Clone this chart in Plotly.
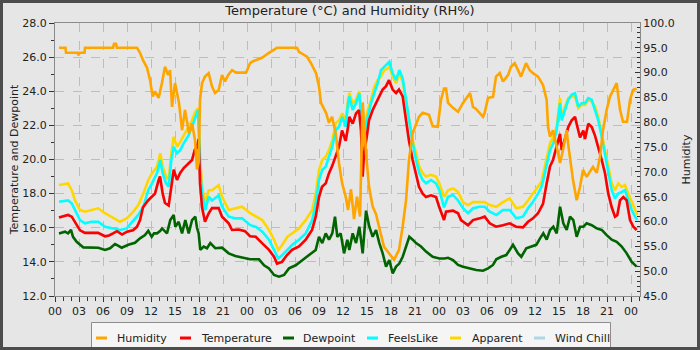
import plotly.graph_objects as go

# ---- observation data (hours since the first midnight) ----
hum_hours = [0.5, 1.31, 1.38, 2.81, 2.94, 3.06, 3.69, 3.75, 7.25, 7.38, 7.63, 7.75, 10.25, 10.63, 11.0,
             11.5, 11.88, 12.21, 12.5, 12.96, 13.38, 13.75, 14.13, 14.38, 14.63, 15.0, 15.5, 15.88, 16.25,
             16.75, 17.13, 17.5, 17.75, 17.96, 18.13, 18.38, 18.75, 19.21, 19.63, 20.0, 20.46, 20.88,
             21.25, 21.63, 22.13, 22.63, 23.88, 24.38, 24.63, 25.88, 26.75, 27.75, 30.25, 30.5, 31.5,
             32.0, 32.63, 33.0, 33.25, 33.88, 34.25, 34.63, 35.09, 35.5, 35.88, 36.34, 36.63, 37.0,
             37.38, 37.75, 38.13, 38.46, 38.88, 39.25, 39.71, 40.13, 40.5, 41.13, 41.75, 42.38, 43.0,
             43.46, 43.88, 44.25, 44.71, 45.13, 45.5, 45.96, 46.75, 47.21, 47.84, 48.25, 48.63, 48.88,
             49.13, 49.75, 50.38, 51.0, 51.63, 51.88, 52.25, 52.63, 53.5, 53.71, 54.13, 54.75, 55.13,
             55.59, 56.0, 56.63, 57.0, 57.46, 57.88, 58.25, 58.88, 59.34, 59.75, 60.38, 60.75, 61.0,
             61.46, 61.63, 61.88, 62.25, 62.71, 63.13, 63.5, 63.96, 64.13, 64.59, 64.75, 65.21, 65.63,
             66.0, 66.46, 66.88, 67.25, 67.71, 68.13, 68.5, 68.96, 69.38, 69.75, 70.21, 70.63, 71.0,
             71.5, 71.88, 72.25, 72.71]
humidity = [95.0, 95.0, 94.0, 94.0, 93.5, 94.0, 94.0, 95.0, 95.0, 95.8, 95.8, 95.0, 95.0, 94.0, 92.5,
            91.0, 88.5, 85.2, 86.2, 84.9, 88.0, 91.2, 89.5, 90.5, 83.1, 87.9, 83.9, 78.4, 82.5,
            77.8, 79.8, 76.4, 70.5, 72.0, 84.5, 87.9, 89.2, 89.9, 87.2, 85.9, 86.5, 89.5,
            88.2, 89.5, 90.5, 90.0, 90.0, 91.9, 92.2, 93.0, 94.0, 95.0, 95.0, 94.2, 93.2,
            91.9, 89.9, 87.2, 83.9, 81.9, 79.9, 81.1, 77.8, 71.8, 67.8, 65.0, 62.3, 66.5,
            60.5, 65.0, 61.0, 84.0, 73.8, 67.0, 63.0, 61.5, 59.0, 54.9, 53.6, 52.3, 54.3,
            59.0, 64.3, 72.4, 77.8, 79.8, 81.1, 81.9, 81.5, 79.2, 79.1, 84.5, 86.8, 86.8,
            83.9, 82.9, 82.1, 83.9, 85.2, 85.9, 83.1, 82.7, 81.1, 81.9, 84.9, 85.1, 89.2,
            89.9, 88.2, 89.5, 91.2, 91.9, 90.5, 89.2, 91.9, 90.5, 89.9, 89.2, 88.2, 87.5,
            84.5, 79.1, 77.1, 78.4, 75.1, 71.8, 74.4, 78.4, 75.8, 69.8, 68.4, 64.3, 67.0,
            70.4, 69.0, 70.1, 71.0, 69.8, 73.1, 78.4, 82.5, 85.2, 86.5, 87.9, 82.5, 80.1,
            80.1, 84.5, 86.5, 86.8]

temp_hours = [0.5, 1.0, 1.63, 2.09, 2.5, 3.13, 3.75, 4.5, 5.38, 6.25, 6.75, 7.25, 7.75, 8.38, 9.0,
              9.75, 10.25, 10.63, 11.0, 11.63, 12.13, 12.5, 12.96, 13.13, 13.46, 13.75, 14.21, 14.5,
              14.84, 15.25, 15.63, 16.09, 16.71, 17.13, 17.46, 17.75, 17.96, 18.13, 18.38, 18.75,
              19.21, 19.63, 20.46, 20.88, 21.71, 22.13, 22.96, 23.75, 24.38, 25.09, 25.88, 26.75,
              27.38, 27.75, 28.38, 29.0, 29.63, 30.5, 31.34, 32.13, 32.59, 33.0, 33.38, 33.84, 34.25,
              34.63, 35.09, 35.5, 35.88, 36.34, 36.63, 36.79, 37.21, 37.63, 38.0, 38.25, 38.46, 38.63,
              38.96, 39.25, 39.71, 40.13, 40.5, 40.96, 41.38, 41.75, 42.21, 42.63, 43.0, 43.46, 43.88,
              44.25, 44.71, 45.13, 45.5, 45.96, 46.38, 47.0, 47.63, 48.04, 48.63, 48.88, 49.75, 50.38,
              50.75, 51.63, 52.25, 53.09, 53.71, 54.34, 55.13, 56.0, 56.84, 57.63, 58.5, 59.13, 59.75,
              60.38, 61.0, 61.46, 61.88, 62.25, 62.71, 63.13, 63.34, 63.75, 64.16, 64.59, 65.0, 65.41,
              65.63, 66.04, 66.25, 66.66, 67.09, 67.5, 67.91, 68.34, 68.75, 69.16, 69.59, 70.0, 70.29,
              70.63, 71.04, 71.46, 71.88, 72.29, 72.71]
temperature = [16.6, 16.65, 16.75, 16.65, 16.35, 15.85, 15.7, 15.7, 15.7, 15.5, 15.55, 15.67, 15.8, 15.6, 15.77,
               15.85, 16.06, 16.45, 17.2, 17.6, 17.8, 18.0, 18.8, 19.0, 18.0, 17.45, 17.3, 18.4,
               19.4, 18.8, 19.2, 19.5, 19.8, 19.97, 20.55, 20.75, 21.2, 18.6, 17.2, 16.35,
               16.85, 17.15, 17.15, 16.65, 16.26, 15.87, 15.9, 15.8, 15.5, 15.47, 15.1, 14.7,
               14.3, 13.9, 14.0, 14.4, 14.7, 14.9, 15.3, 15.87, 16.65, 17.8, 18.4, 18.6, 19.2,
               19.6, 20.2, 20.75, 21.7, 21.1, 21.9, 22.5, 22.1, 22.7, 22.9, 21.7, 19.0, 20.36,
               21.3, 22.3, 22.9, 23.3, 23.7, 24.1, 24.3, 24.65, 24.1, 23.9, 24.1, 23.7, 22.3,
               21.1, 19.97, 19.2, 18.4, 18.0, 17.8, 17.9, 17.8, 17.2, 16.45, 16.94, 17.0, 16.85,
               16.45, 16.15, 16.45, 16.55, 16.65, 16.26, 16.06, 16.15, 16.26, 16.06, 16.02, 16.35, 16.55,
               16.85, 17.4, 18.6, 19.6, 19.97, 20.75, 21.5, 20.55, 21.3, 21.9, 22.3, 22.5, 21.7,
               21.3, 21.7, 21.2, 22.1, 21.9, 21.4, 20.75, 19.97, 19.2, 18.0, 17.2, 16.65, 16.75,
               17.6, 17.8, 17.6, 16.45, 16.06, 15.87]

# Above 10 °C the wind chill equals the air temperature
wind_chill = list(temperature)

dew_hours = [0.5, 1.25, 1.63, 2.0, 2.25, 2.71, 3.54, 4.59, 5.41, 6.25, 6.88, 7.5, 8.34, 9.16, 10.0,
             10.63, 11.25, 11.66, 12.09, 12.38, 12.75, 13.13, 13.38, 14.0, 14.41, 14.84, 15.04, 15.46,
             15.88, 16.29, 16.71, 17.13, 17.54, 17.75, 17.96, 18.16, 18.59, 19.0, 19.41, 20.04, 20.88,
             21.71, 22.54, 23.38, 24.38, 25.5, 26.13, 26.75, 27.38, 28.0, 28.63, 29.25, 30.09, 30.91,
             31.75, 32.59, 33.0, 33.41, 33.84, 34.25, 34.66, 35.0, 35.29, 35.71, 36.13, 36.54, 36.79,
             37.21, 37.63, 38.04, 38.46, 38.88, 39.29, 39.71, 40.13, 40.54, 40.96, 41.38, 41.79, 42.21,
             42.63, 43.04, 43.46, 43.88, 44.29, 44.71, 45.13, 45.75, 46.38, 47.21, 48.04, 48.66, 49.13,
             49.75, 50.38, 51.0, 51.84, 52.66, 53.5, 54.13, 54.75, 55.16, 55.79, 56.41, 56.84, 57.25,
             57.88, 58.29, 58.91, 59.54, 60.16, 60.63, 61.04, 61.46, 61.88, 62.29, 62.71, 63.13, 63.54,
             63.96, 64.38, 64.79, 65.21, 65.63, 66.04, 66.46, 67.09, 67.71, 68.34, 68.96, 69.59, 70.21,
             70.84, 71.46, 72.09, 72.71]
dewpoint = [15.67, 15.77, 15.67, 15.87, 15.47, 15.18, 14.85, 14.85, 14.83, 14.7, 14.8, 15.05, 14.83, 15.0, 15.12,
            15.38, 15.57, 15.82, 15.47, 15.67, 15.67, 15.8, 15.96, 15.67, 16.45, 16.75, 16.06, 16.35,
            15.67, 16.45, 15.67, 16.45, 16.65, 16.0, 15.67, 14.7, 14.9, 14.8, 15.1, 14.8, 14.83,
            14.5, 14.34, 14.26, 14.15, 14.15, 13.8, 13.62, 13.23, 13.13, 13.23, 13.62, 13.8, 14.1,
            14.4, 14.7, 15.47, 15.1, 15.67, 15.3, 15.67, 16.65, 15.47, 15.67, 14.5, 15.3, 14.7,
            15.67, 15.1, 16.06, 14.5, 17.0, 16.06, 15.47, 15.87, 15.1, 14.5, 13.72, 14.1, 13.33,
            13.72, 13.9, 14.3, 14.9, 15.47, 15.3, 15.1, 14.9, 14.6, 14.3, 14.2, 14.2, 14.24,
            14.1, 13.82, 13.72, 13.62, 13.52, 13.48, 13.62, 13.82, 14.15, 14.3, 14.4, 14.7, 15.0,
            14.5, 14.3, 14.8, 14.9, 15.0, 15.38, 15.67, 15.3, 15.87, 16.06, 15.67, 17.23, 16.26,
            15.87, 16.65, 16.45, 15.47, 16.06, 16.06, 16.26, 16.15, 15.96, 15.87, 15.57, 15.3, 15.18,
            14.9, 14.5, 14.0, 13.72]

feel_hours = [0.5, 1.63, 2.09, 2.5, 3.13, 3.75, 4.59, 5.41, 6.25, 7.29, 8.13, 8.96, 9.79, 10.41, 11.04,
              11.66, 12.13, 12.75, 13.16, 13.46, 13.88, 14.21, 14.54, 14.84, 15.25, 15.66, 16.09, 16.71,
              17.13, 17.54, 17.88, 18.16, 18.38, 18.79, 19.21, 19.63, 20.46, 20.88, 21.71, 22.54, 23.38,
              24.41, 25.09, 25.91, 26.75, 27.38, 27.91, 28.41, 29.04, 29.66, 30.5, 31.34, 32.16, 32.59,
              33.0, 33.41, 33.84, 34.25, 34.66, 35.09, 35.5, 35.91, 36.34, 36.63, 36.79, 37.21, 37.63,
              38.04, 38.25, 38.46, 38.75, 39.09, 39.5, 39.91, 40.34, 40.75, 41.16, 41.59, 41.79, 42.21,
              42.63, 43.04, 43.46, 43.88, 44.29, 44.71, 45.13, 45.54, 45.96, 46.38, 47.0, 47.63, 48.04,
              48.63, 49.13, 49.75, 50.38, 51.0, 51.63, 52.25, 53.09, 53.71, 54.34, 55.16, 56.0, 56.84,
              57.66, 58.5, 59.13, 59.75, 60.38, 60.81, 61.04, 61.46, 61.88, 62.29, 62.71, 63.13, 63.34,
              63.75, 64.16, 64.59, 65.0, 65.41, 65.84, 66.25, 66.66, 67.09, 67.5, 67.91, 68.34, 68.75,
              69.16, 69.59, 70.0, 70.41, 70.84, 71.25, 71.66, 72.09, 72.5, 72.79]
feels_like = [17.52, 17.6, 17.43, 17.04, 16.45, 16.26, 16.35, 16.35, 16.06, 15.96, 15.87, 15.96, 16.45, 16.75, 17.23,
              18.2, 18.6, 19.2, 19.97, 19.2, 18.6, 18.4, 19.97, 20.75, 20.36, 20.55, 20.95, 21.43,
              21.92, 22.5, 22.9, 19.4, 18.0, 17.04, 17.82, 17.6, 17.9, 17.23, 16.65, 16.55, 16.55,
              16.15, 16.06, 15.77, 15.3, 14.7, 14.2, 14.4, 14.7, 15.0, 15.3, 15.67, 16.45, 17.43,
              18.8, 19.4, 19.58, 20.16, 20.75, 21.73, 21.92, 22.5, 21.92, 23.3, 23.7, 22.9, 23.3,
              23.88, 22.5, 19.97, 21.73, 22.5, 23.3, 23.88, 24.47, 25.24, 25.44, 25.64, 25.73, 25.05,
              24.66, 25.24, 24.76, 23.5, 22.12, 20.95, 19.97, 19.2, 18.8, 18.6, 18.8, 18.6, 18.2,
              17.2, 17.82, 17.92, 17.6, 17.14, 16.85, 17.14, 17.23, 17.23, 16.94, 16.75, 17.04, 17.04,
              16.55, 16.65, 17.14, 17.52, 18.0, 18.4, 18.8, 19.78, 20.55, 20.95, 21.73, 23.3, 22.3,
              22.9, 23.5, 23.8, 23.88, 23.1, 23.3, 23.3, 23.6, 23.5, 22.9, 22.3, 21.33, 20.36,
              19.2, 18.2, 17.72, 18.0, 18.1, 18.2, 17.6, 17.04, 16.65, 16.45]

apparent = [18.5, 18.6, 18.2, 17.6, 17.04, 16.94, 17.04, 17.14, 16.85, 16.55, 16.35, 16.55, 16.94, 17.33, 18.0,
            18.8, 19.2, 19.58, 20.36, 19.6, 19.0, 18.8, 20.36, 21.33, 20.75, 21.04, 21.43, 21.92,
            22.3, 22.8, 23.0, 19.97, 18.4, 17.43, 18.2, 18.2, 18.5, 17.82, 17.04, 17.14, 17.23,
            16.85, 16.65, 16.45, 15.87, 15.3, 14.7, 15.0, 15.47, 15.67, 15.96, 16.45, 17.04, 18.0,
            19.4, 19.97, 20.16, 20.55, 21.14, 22.12, 22.3, 22.7, 22.3, 23.5, 23.9, 23.3, 23.5,
            24.0, 22.9, 20.36, 22.12, 22.9, 23.5, 24.27, 24.66, 24.86, 25.24, 25.34, 25.44, 24.86,
            24.47, 25.05, 24.56, 23.4, 22.3, 21.14, 20.36, 19.58, 19.2, 19.0, 19.1, 19.0, 18.6,
            17.82, 18.2, 18.3, 18.1, 17.5, 17.33, 17.5, 17.5, 17.5, 17.33, 17.23, 17.5, 17.72,
            17.14, 17.23, 17.6, 18.0, 18.4, 18.7, 19.2, 20.16, 20.95, 21.33, 21.92, 23.6, 22.5,
            23.1, 23.6, 23.7, 23.7, 23.0, 23.2, 23.2, 23.5, 23.4, 23.1, 22.5, 21.53, 20.55,
            19.58, 18.6, 18.2, 18.6, 18.4, 18.5, 18.0, 17.5, 17.14, 16.75]

tick_hours = list(range(0, 73, 3))
tick_labels = ["00", "03", "06", "09", "12", "15", "18", "21"] * 3 + ["00"]

legend_names = ["Humidity", "Temperature", "Dewpoint", "FeelsLike", "Apparent", "Wind Chill"]

# ---- styling ----
FONT = "DejaVu Sans"
TEXT = "#222222"
GRID = "#bdbdbd"
AXIS = "#8a8a8a"
COLORS = {
    "Humidity": "#ffa500",
    "Temperature": "#ff0000",
    "Dewpoint": "#006400",
    "FeelsLike": "#00ffff",
    "Apparent": "#ffd700",
    "Wind Chill": "#add8e6",
}
LW = 2.6

W, H = 700, 350
ML, MR, MT, MB = 55, 60, 23, 54
PW, PH = W - ML - MR, H - MT - MB


def px(x):
    """pixel column -> paper x"""
    return (x - ML) / PW


def py(y):
    """pixel row -> paper y"""
    return (H - MB - y) / PH


fig = go.Figure()

# temperature-scale series, back to front
series = [
    ("Wind Chill", temp_hours, wind_chill),
    ("Apparent", feel_hours, apparent),
    ("FeelsLike", feel_hours, feels_like),
    ("Dewpoint", dew_hours, dewpoint),
    ("Temperature", temp_hours, temperature),
]
for name, xs, ys in series:
    fig.add_trace(go.Scatter(x=xs, y=ys, mode="lines", name=name, showlegend=False,
                             line=dict(color=COLORS[name], width=LW), yaxis="y"))

fig.add_trace(go.Scatter(x=hum_hours, y=humidity, mode="lines", name="Humidity", showlegend=False,
                         line=dict(color=COLORS["Humidity"], width=LW), yaxis="y2"))

# ---- legend panel along the bottom: box, short keys and labels ----
shapes = [dict(type="rect", xref="paper", yref="paper", layer="above",
               x0=px(91.5), x1=px(610.5), y0=py(351), y1=py(322.5),
               line=dict(color="#8c8c8c", width=1), fillcolor="#f5f5f5")]
annotations = []
key_left = [96, 180, 283, 367, 450, 534]
label_left = [115, 199, 301, 386, 470, 553]
LEG_Y = 338
for name, kx, tx in zip(legend_names, key_left, label_left):
    shapes.append(dict(type="line", xref="paper", yref="paper", layer="above",
                       x0=px(kx), x1=px(kx + 11), y0=py(LEG_Y), y1=py(LEG_Y),
                       line=dict(color=COLORS[name], width=3)))
    annotations.append(dict(text=name, xref="paper", yref="paper", x=px(tx), y=py(LEG_Y),
                            xanchor="left", yanchor="middle", showarrow=False,
                            font=dict(family=FONT, size=11, color=TEXT)))

# dark frame around the whole image
shapes.append(dict(type="rect", xref="paper", yref="paper", layer="above",
                   x0=px(1.5), x1=px(W - 1.5), y0=py(H - 1.5), y1=py(1.5),
                   line=dict(color="#4d4d4d", width=3), fillcolor="rgba(0,0,0,0)"))

fig.update_layout(
    width=W, height=H, autosize=False, showlegend=False,
    margin=dict(l=ML, r=MR, t=MT, b=MB, pad=0),
    paper_bgcolor="#e6e6e6", plot_bgcolor="#e6e6e6",
    font=dict(family=FONT, size=11, color=TEXT),
    title=dict(text="Temperature (°C) and Humidity (RH%)", x=0.5, xanchor="center",
               y=1 - 10 / H, yanchor="middle", font=dict(family=FONT, size=13, color=TEXT)),
    xaxis=dict(range=[0, 73.125], tickmode="array", tickvals=tick_hours, ticktext=tick_labels,
               ticks="outside", ticklen=5, tickcolor="#333", showline=True, linecolor=AXIS,
               mirror=True, showgrid=True, gridcolor=GRID, griddash="dash", gridwidth=1,
               zeroline=False, tickfont=dict(size=11, color=TEXT), automargin=False,
               minor=dict(tickvals=list(range(0, 74)), ticks="outside", ticklen=4,
                          tickcolor="#333", showgrid=False)),
    yaxis=dict(range=[12, 28], dtick=2, tickformat=".1f", ticks="outside", ticklen=5,
               tickcolor="#333", showline=True, linecolor=AXIS, showgrid=True, gridcolor=GRID,
               griddash="dash", zeroline=False, tickfont=dict(size=11, color=TEXT), automargin=False,
               minor=dict(dtick=1, ticks="outside", ticklen=3, tickcolor="#333", showgrid=False),
               title=dict(text="Temperature and Dewpoint", font=dict(size=11, color=TEXT), standoff=1)),
    yaxis2=dict(range=[45, 100], dtick=5, tickformat=".1f", overlaying="y", side="right",
                ticks="inside", ticklen=5, tickcolor="#333", showline=True, linecolor=AXIS,
                showgrid=False, zeroline=False, tickfont=dict(size=11, color=TEXT), automargin=False,
                minor=dict(dtick=1, ticks="inside", ticklen=3, tickcolor="#333"),
                title=dict(text="Humidity", font=dict(size=11, color=TEXT), standoff=8)),
    shapes=shapes,
    annotations=annotations,
)

fig.write_html("out.html")
